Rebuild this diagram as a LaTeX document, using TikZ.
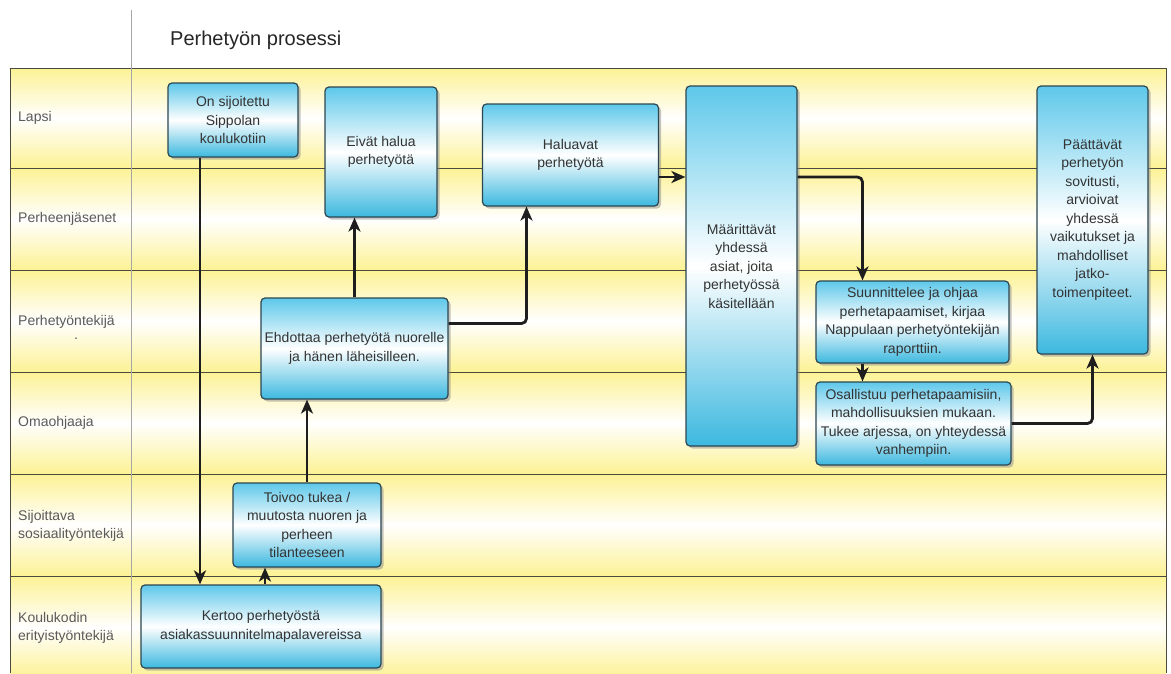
\documentclass[tikz,border=0pt]{standalone}
\usepackage{fontspec}
\setmainfont{Liberation Sans}
\usetikzlibrary{arrows.meta,shadows,calc}
\definecolor{laneY}{HTML}{FCF294}
\definecolor{nodeTop}{HTML}{5EC8EA}
\definecolor{nodeBot}{HTML}{3CB8DF}
\definecolor{nodeBorder}{HTML}{2C4650}
\definecolor{txt}{HTML}{333333}
\definecolor{lbl}{HTML}{5A5A5A}
\definecolor{gridline}{HTML}{4A4A40}
\definecolor{conn}{HTML}{1E1E1E}
\tikzset{
  box/.style={rectangle, rounded corners=4pt, draw=nodeBorder, line width=1.2pt,
    top color=nodeTop, bottom color=nodeBot, middle color=white,
    drop shadow={shadow xshift=2.5pt, shadow yshift=-2.5pt, fill=black!45, opacity=0.5},
    align=center, inner sep=2pt, text=txt,
    font=\fontsize{14}{18.5}\selectfont},
  lanelabel/.style={anchor=west, align=left, text=lbl, inner sep=0pt,
    font=\fontsize{14}{18.5}\selectfont},
  flow/.style={draw=conn, line width=2.8pt, rounded corners=5pt,
    -{Stealth[length=14pt,width=12pt,inset=4pt]}},
  laneline/.style={draw=gridline, line width=0.9pt}
}
\begin{document}
\begin{tikzpicture}[x=1pt,y=-1pt]
\useasboundingbox (0,0) rectangle (1171,673);
\fill[white] (0,0) rectangle (1171,673);
% lane shading
\foreach \t/\b in {68/168,168/270,270/372,372/474,474/576,576/678}{
  \shade[top color=laneY, bottom color=laneY, middle color=white] (10,\t) rectangle (1166,\b);
}
% lane lines
\foreach \y in {68,168,270,372,474,576}{
  \draw[laneline] (10,\y) -- (1166,\y);
}
\draw[laneline] (10,68) -- (10,673);
\draw[laneline] (1166,68) -- (1166,673);
\draw[draw=gray!70, line width=0.9pt] (131,10) -- (131,673);
% title
\node[anchor=base west, inner sep=0pt, text=black!85, font=\fontsize{20}{24}\selectfont] (title) at (170,45) {Perhetyön prosessi};
% lane labels
\node[lanelabel] (l1) at (18,118) {Lapsi};
\node[lanelabel] (l2) at (18,219) {Perheenjäsenet};
\node[lanelabel] (l3) at (18,322) {Perhetyöntekijä};
\node[text=lbl, inner sep=0pt, font=\fontsize{14}{18.5}\selectfont] (l3dot) at (76,339) {.};
\node[lanelabel] (l4) at (18,423) {Omaohjaaja};
\node[lanelabel] (l5) at (18,526) {Sijoittava\\sosiaalityöntekijä};
\node[lanelabel] (l6) at (18,628) {Koulukodin\\erityistyöntekijä};
% boxes
\node[box, minimum width=130pt, minimum height=74pt] (n1) at (233,120) {On sijoitettu\\Sippolan\\koulukotiin};
\node[box, minimum width=112pt, minimum height=130pt] (n2) at (381,152) {Eivät halua\\perhetyötä};
\node[box, minimum width=176pt, minimum height=102pt] (n3) at (570.5,155) {Haluavat\\perhetyötä};
\node[box, minimum width=111pt, minimum height=360pt] (n4) at (741.5,266) {Määrittävät\\yhdessä\\asiat, joita\\perhetyössä\\käsitellään};
\node[box, minimum width=111pt, minimum height=268pt] (n5) at (1092.5,220) {Päättävät\\perhetyön\\sovitusti,\\arvioivat\\yhdessä\\vaikutukset ja\\mahdolliset\\jatko-\\toimenpiteet.};
\node[box, minimum width=193pt, minimum height=82pt] (n6) at (912.5,322) {Suunnittelee ja ohjaa\\perhetapaamiset, kirjaa\\Nappulaan perhetyöntekijän\\raporttiin.};
\node[box, minimum width=195pt, minimum height=83pt] (n7) at (913.5,423.5) {Osallistuu perhetapaamisiin,\\mahdollisuuksien mukaan.\\Tukee arjessa, on yhteydessä\\vanhempiin.};
\node[box, minimum width=187pt, minimum height=101pt] (n8) at (354.5,348.5) {Ehdottaa perhetyötä nuorelle\\ja hänen läheisilleen.};
\node[box, minimum width=148pt, minimum height=84pt] (n9) at (307,525) {Toivoo tukea /\\muutosta nuoren ja\\perheen\\tilanteeseen};
\node[box, minimum width=240pt, minimum height=83pt] (n10) at (261,626.5) {Kertoo perhetyöstä\\asiakassuunnitelmapalavereissa};
% connectors
\draw[flow] ([xshift=-33pt]n1.south) -- ([xshift=-33pt]n1.south |- n10.north);
\draw[flow] ([xshift=4pt]n10.north) -- ([xshift=4pt]n10.north |- n9.south);
\draw[flow] (n9.north) -- (n9.north |- n8.south);
\draw[flow] (n8.north) -- (n8.north |- n2.south);
\draw[flow] ([yshift=25pt]n8.east) -| ([xshift=-44pt]n3.south);
\draw[flow] ([yshift=-22pt]n3.east) -- ([yshift=-22pt]n3.east -| n4.west);
\draw[flow] ([yshift=89pt]n4.east) -| ([xshift=-50pt]n6.north);
\draw[flow] ([xshift=-50pt]n6.south) -- ([xshift=-50pt]n6.south |- n7.north);
\draw[flow] (n7.east) -| (n5.south);
\end{tikzpicture}
\end{document}
